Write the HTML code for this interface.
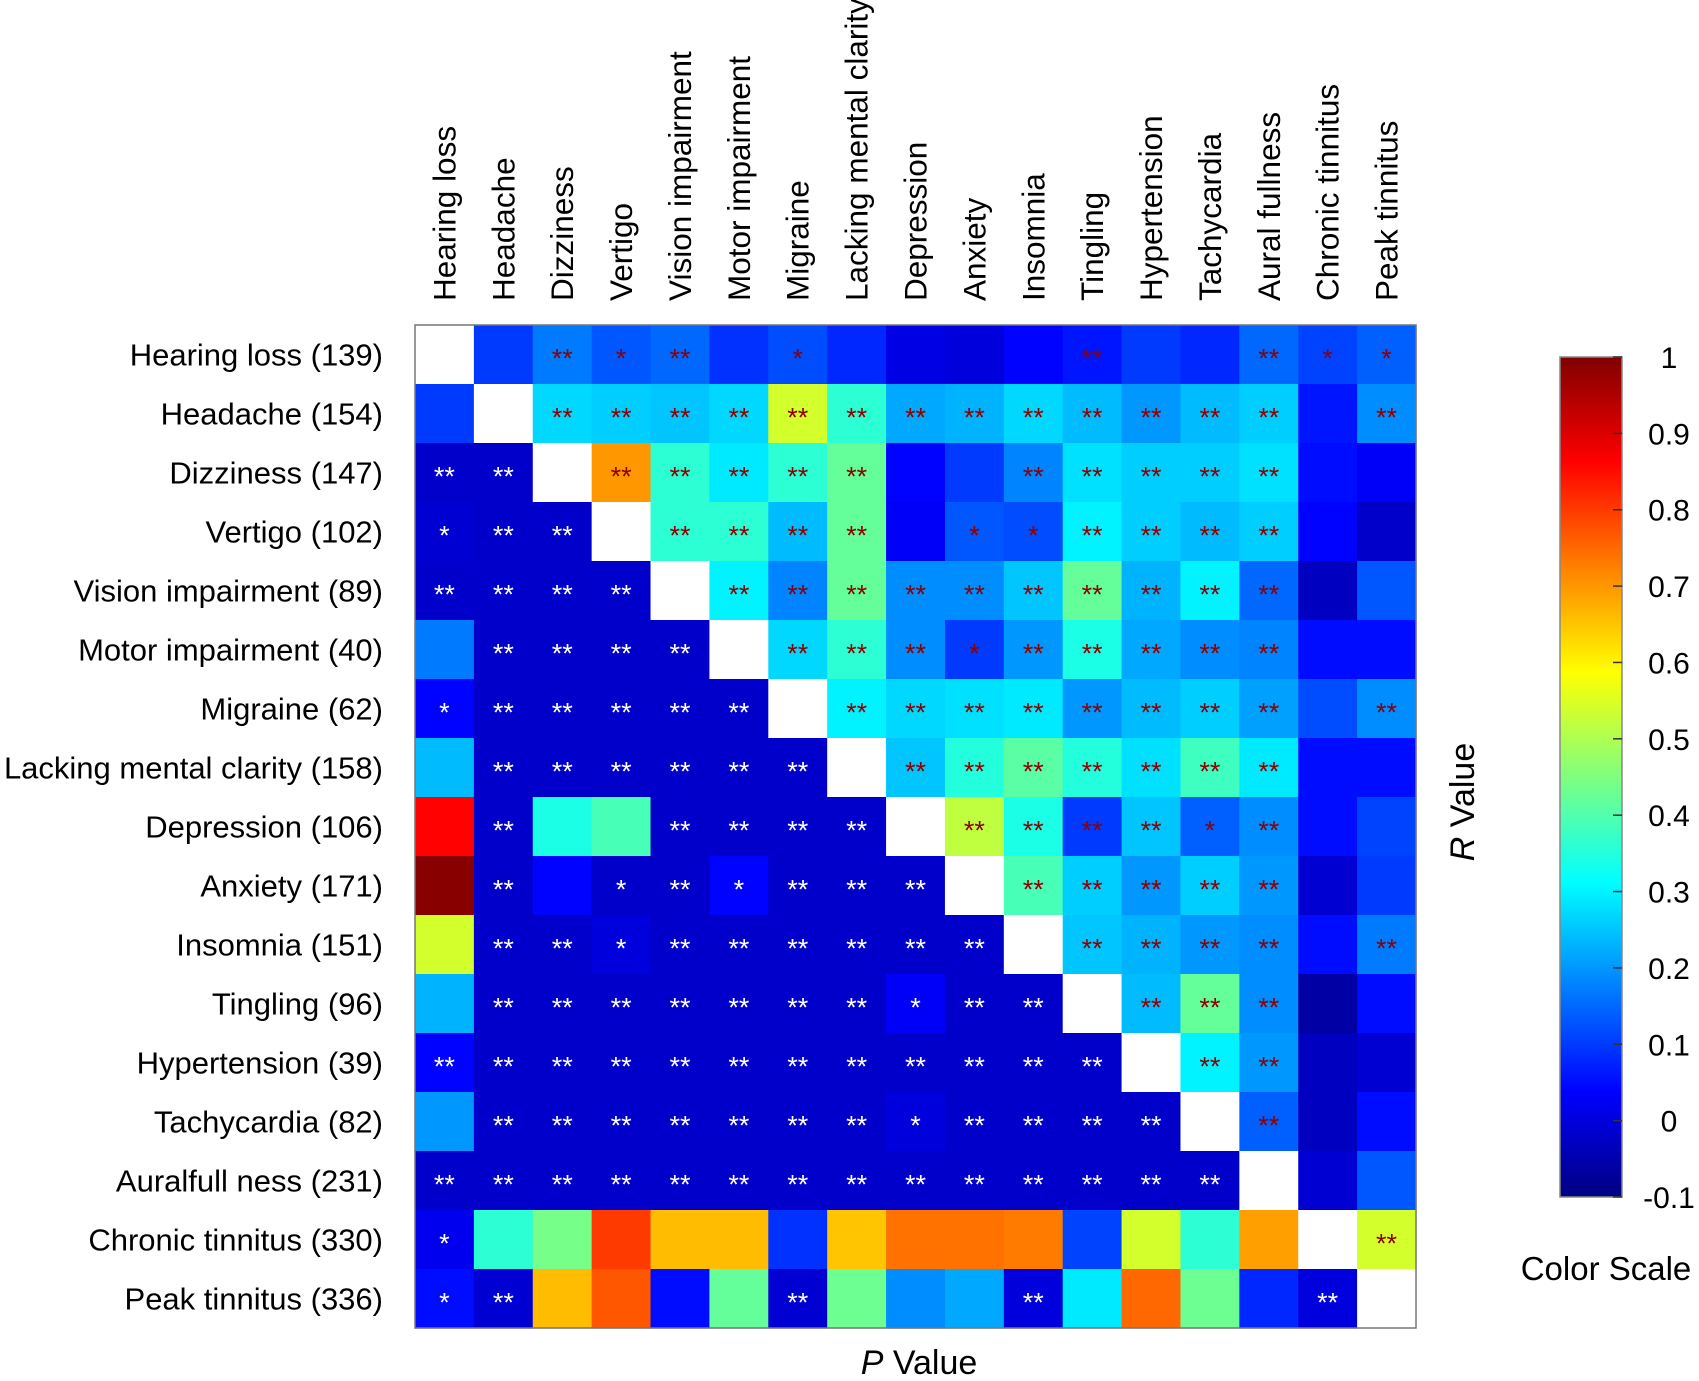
<!DOCTYPE html>
<html><head><meta charset="utf-8"><style>
html,body{margin:0;padding:0;background:#fff;}
svg{display:block;font-family:"Liberation Sans",Arial,sans-serif;}
</style></head><body>
<svg id="chart" width="1699" height="1381" viewBox="0 0 1699 1381" xmlns="http://www.w3.org/2000/svg">
<defs>
<linearGradient id="jet" x1="0" y1="1" x2="0" y2="0">
<stop offset="0" stop-color="#000080"/>
<stop offset="0.125" stop-color="#0000ff"/>
<stop offset="0.375" stop-color="#00ffff"/>
<stop offset="0.625" stop-color="#ffff00"/>
<stop offset="0.875" stop-color="#ff0000"/>
<stop offset="1" stop-color="#800000"/>
</linearGradient>
</defs>
<g id="cells"></g>
<rect x="415" y="325" width="1001" height="1003" fill="none" stroke="#777" stroke-width="1.5"/>
<g id="rowlabels"></g>
<g id="collabels"></g>
<text x="919" y="1374" font-size="34" text-anchor="middle"><tspan font-style="italic">P</tspan> Value</text>
<text transform="translate(1474,802) rotate(-90)" font-size="34" text-anchor="middle"><tspan font-style="italic">R</tspan> Value</text>
<rect x="1560" y="357" width="62" height="840" fill="url(#jet)" stroke="#888" stroke-width="1.5"/>
<g id="cbticks"></g>
<text x="1606" y="1280" font-size="33" text-anchor="middle">Color Scale</text>
</svg>
<script>
const rowNames = ["Hearing loss (139)","Headache (154)","Dizziness (147)","Vertigo (102)","Vision impairment (89)","Motor impairment (40)","Migraine (62)","Lacking mental clarity (158)","Depression (106)","Anxiety (171)","Insomnia (151)","Tingling (96)","Hypertension (39)","Tachycardia (82)","Auralfull ness (231)","Chronic tinnitus (330)","Peak tinnitus (336)"];
const colNames = ["Hearing loss","Headache","Dizziness","Vertigo","Vision impairment","Motor impairment","Migraine","Lacking mental clarity","Depression","Anxiety","Insomnia","Tingling","Hypertension","Tachycardia","Aural fullness","Chronic tinnitus","Peak tinnitus"];
const N = null;
const values = [
[N,0.10,0.17,0.13,0.15,0.09,0.12,0.08,0.01,0.00,0.04,0.06,0.10,0.08,0.15,0.11,0.14],
[0.10,N,0.27,0.26,0.25,0.27,0.54,0.36,0.22,0.23,0.27,0.24,0.20,0.24,0.26,0.06,0.19],
[-0.02,-0.02,N,0.70,0.36,0.29,0.36,0.42,0.04,0.10,0.18,0.28,0.26,0.26,0.28,0.05,0.03],
[-0.01,-0.02,-0.02,N,0.36,0.36,0.24,0.42,0.03,0.13,0.12,0.30,0.26,0.24,0.26,0.04,-0.02],
[-0.02,-0.02,-0.02,-0.02,N,0.30,0.18,0.42,0.19,0.19,0.25,0.42,0.23,0.30,0.15,-0.03,0.13],
[0.17,-0.02,-0.02,-0.02,-0.02,N,0.27,0.36,0.19,0.10,0.20,0.34,0.22,0.19,0.18,0.05,0.05],
[0.04,-0.02,-0.02,-0.02,-0.02,-0.02,N,0.30,0.27,0.28,0.29,0.20,0.24,0.26,0.21,0.12,0.19],
[0.24,-0.02,-0.02,-0.02,-0.02,-0.02,-0.02,N,0.25,0.35,0.41,0.35,0.28,0.38,0.29,0.05,0.05],
[0.86,-0.02,0.34,0.39,-0.02,-0.02,-0.02,-0.02,N,0.52,0.34,0.10,0.25,0.14,0.19,0.05,0.11],
[0.99,-0.02,0.04,-0.02,-0.02,0.04,-0.02,-0.02,-0.02,N,0.39,0.26,0.20,0.26,0.20,-0.01,0.10],
[0.54,-0.02,-0.02,0.00,-0.02,-0.02,-0.02,-0.02,-0.02,-0.02,N,0.25,0.23,0.20,0.19,0.05,0.17],
[0.23,-0.02,-0.02,-0.02,-0.02,-0.02,-0.02,-0.02,0.03,-0.02,-0.02,N,0.24,0.42,0.19,-0.06,0.05],
[0.04,-0.02,-0.02,-0.02,-0.02,-0.02,-0.02,-0.02,-0.02,-0.02,-0.02,-0.02,N,0.30,0.20,-0.03,-0.01],
[0.20,-0.02,-0.02,-0.02,-0.02,-0.02,-0.02,-0.02,0.00,-0.02,-0.02,-0.02,-0.02,N,0.14,-0.03,0.05],
[-0.02,-0.02,-0.02,-0.02,-0.02,-0.02,-0.02,-0.02,-0.02,-0.02,-0.02,-0.02,-0.02,-0.02,N,-0.01,0.13],
[0.02,0.36,0.44,0.80,0.66,0.66,0.09,0.65,0.74,0.74,0.73,0.11,0.54,0.36,0.69,N,0.54],
[0.05,-0.01,0.66,0.77,0.05,0.42,-0.01,0.43,0.19,0.22,0.00,0.29,0.75,0.43,0.08,0.00,N]
];
const starGrid = [
["","","**","*","**","","*","","","","","**","","","**","*","*"],
["","","**","**","**","**","**","**","**","**","**","**","**","**","**","","**"],
["**","**","","**","**","**","**","**","","","**","**","**","**","**","",""],
["*","**","**","","**","**","**","**","","*","*","**","**","**","**","",""],
["**","**","**","**","","**","**","**","**","**","**","**","**","**","**","",""],
["","**","**","**","**","","**","**","**","*","**","**","**","**","**","",""],
["*","**","**","**","**","**","","**","**","**","**","**","**","**","**","","**"],
["","**","**","**","**","**","**","","**","**","**","**","**","**","**","",""],
["","**","","","**","**","**","**","","**","**","**","**","*","**","",""],
["","**","","*","**","*","**","**","**","","**","**","**","**","**","",""],
["","**","**","*","**","**","**","**","**","**","","**","**","**","**","","**"],
["","**","**","**","**","**","**","**","*","**","**","","**","**","**","",""],
["**","**","**","**","**","**","**","**","**","**","**","**","","**","**","",""],
["","**","**","**","**","**","**","**","*","**","**","**","**","","**","",""],
["**","**","**","**","**","**","**","**","**","**","**","**","**","**","","",""],
["*","","","","","","","","","","","","","","","","**"],
["*","**","","","","","**","","","","**","","","","","**",""]
];
const cbTicks = [1,0.9,0.8,0.7,0.6,0.5,0.4,0.3,0.2,0.1,0,-0.1];
const vMin = -0.1, vMax = 1;

const NS = "http://www.w3.org/2000/svg";
const X0 = 415, Y0 = 325, CW = 1001/17, CH = 1003/17;
const xPos = i => X0 + i*CW;
const yPos = j => Y0 + j*CH;
function jet(v){
  let t = (v - vMin)/(vMax - vMin); t = Math.max(0, Math.min(1, t));
  const f = (a) => Math.max(0, Math.min(1, 1.5 - Math.abs(4*t - a)));
  const r = f(3), g = f(2), b = f(1);
  return `rgb(${Math.round(r*255)},${Math.round(g*255)},${Math.round(b*255)})`;
}
const cells = document.getElementById('cells');
for (let r = 0; r < 17; r++) {
  for (let c = 0; c < 17; c++) {
    const v = values[r][c];
    const rect = document.createElementNS(NS, 'rect');
    rect.setAttribute('x', xPos(c)); rect.setAttribute('y', yPos(r));
    rect.setAttribute('width', CW + 0.6); rect.setAttribute('height', CH + 0.6);
    rect.setAttribute('fill', v === null ? '#ffffff' : jet(v));
    
    
    cells.appendChild(rect);
    const s = starGrid[r][c];
    if (s) {
      const t = document.createElementNS(NS, 'text');
      t.setAttribute('x', xPos(c) + CW/2); t.setAttribute('y', yPos(r) + CH/2 + 13);
      t.setAttribute('text-anchor', 'middle'); t.setAttribute('font-size', '27');
      t.setAttribute('fill', c < r ? '#ffffff' : '#8b0000');
      t.textContent = s;
      
      
      cells.appendChild(t);
    }
  }
}
const rl = document.getElementById('rowlabels');
rowNames.forEach((n, r) => {
  const t = document.createElementNS(NS, 'text');
  t.setAttribute('x', 383); t.setAttribute('y', yPos(r) + CH/2 + 11);
  t.setAttribute('text-anchor', 'end'); t.setAttribute('font-size', '31');
  t.textContent = n;
  
  
  rl.appendChild(t);
});
const cl = document.getElementById('collabels');
colNames.forEach((n, c) => {
  const t = document.createElementNS(NS, 'text');
  const cx = xPos(c) + CW/2 + 11;
  t.setAttribute('transform', `translate(${cx},301) rotate(-90)`);
  t.setAttribute('font-size', '31.5');
  t.textContent = n;
  
  
  cl.appendChild(t);
});
const cb = document.getElementById('cbticks');
const cbY = v => 1197 - (v - vMin)/(vMax - vMin)*840;
cbTicks.forEach(v => {
  const y = cbY(v);
  const l = document.createElementNS(NS, 'line');
  l.setAttribute('x1', 1613); l.setAttribute('x2', 1622); l.setAttribute('y1', y); l.setAttribute('y2', y);
  l.setAttribute('stroke', '#333'); l.setAttribute('stroke-width', '1.5');
  
  
  cb.appendChild(l);
  const t = document.createElementNS(NS, 'text');
  t.setAttribute('x', 1669); t.setAttribute('y', y + 11);
  t.setAttribute('text-anchor', 'middle'); t.setAttribute('font-size', '30');
  t.textContent = String(v);
  
  
  cb.appendChild(t);
});
</script>
</body></html>
